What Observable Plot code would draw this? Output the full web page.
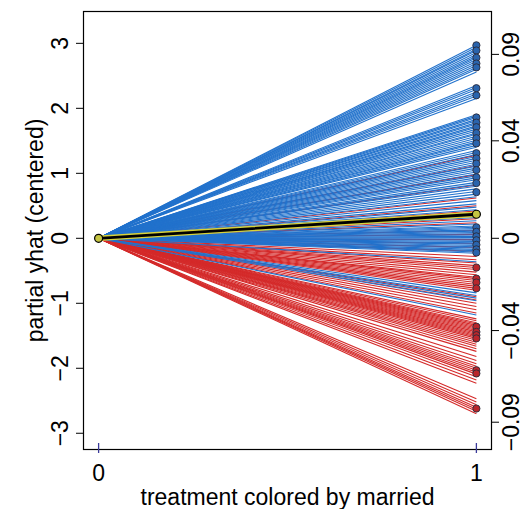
<!DOCTYPE html>
<html><head><meta charset="utf-8">
<script src="https://cdn.jsdelivr.net/npm/d3@7"></script>
<script src="https://cdn.jsdelivr.net/npm/@observablehq/plot@0.6"></script>
<style>body{margin:0;background:#fff;} svg{display:block}</style>
</head><body><div id="chart"></div>
<script>
// ICE curves: centered partial yhat at treatment = 1 (all start at 0 for treatment = 0)
const blueEnds = [2.97, 2.94, 2.91, 2.89, 2.86, 2.83, 2.8, 2.78, 2.75, 2.72, 2.69, 2.66, 2.63, 2.6, 2.56,
  2.35, 2.32, 2.29, 2.25, 2.22, 2.19, 2.15,
  1.9, 1.88, 1.86, 1.83, 1.81, 1.78, 1.76, 1.73, 1.71, 1.68, 1.65, 1.62, 1.6, 1.57, 1.54, 1.51, 1.48, 1.46, 1.43, 1.4,
  1.35, 1.32, 1.29, 1.26, 1.23, 1.2, 1.17, 1.14, 1.11, 1.08, 1.05, 1.02, 0.99, 0.96, 0.93, 0.9, 0.86, 0.83, 0.8, 0.76, 0.72, 0.68, 0.64,
  0.58, 0.53, 0.48, 0.44, 0.32, 0.27, 0.22,
  0.19, 0.17, 0.15, 0.13, 0.11, 0.09, 0.07, 0.05, 0.03, 0.01, -0.01, -0.03, -0.05, -0.07, -0.09, -0.11, -0.13, -0.15, -0.17, -0.19, -0.21, -0.23,
  -0.36, -0.84, -0.88, -0.92, -0.96, -1.18];
const redEnds = [1.28, 1.12, 0.98, 0.82, 0.62, 0.5, 0.42, 0.3, 0.24,
  0.12, 0.06, -0.02, -0.08, -0.14, -0.2,
  -0.28, -0.33, -0.38, -0.42, -0.45, -0.48, -0.52, -0.56, -0.6, -0.62, -0.65, -0.68, -0.71, -0.74, -0.77, -0.8,
  -0.9, -0.95, -1.0, -1.05, -1.1, -1.15,
  -1.24, -1.27, -1.3, -1.32, -1.34, -1.36, -1.38, -1.4, -1.42, -1.44, -1.46, -1.48, -1.5, -1.52, -1.54, -1.57, -1.6, -1.63, -1.66, -1.7, -1.74,
  -1.82, -1.88, -1.93, -1.97, -2.0, -2.03, -2.06, -2.09, -2.13, -2.18, -2.23,
  -2.47, -2.52, -2.56, -2.6, -2.63, -2.66, -2.7];
// observed points at treatment = 1
const bluePts = [2.97, 2.89, 2.78, 2.69, 2.63, 2.31, 2.2, 1.86, 1.78, 1.71, 1.62, 1.54, 1.46, 1.31, 1.23, 1.15, 1.05, 0.94, 0.85, 0.71,
  0.17, 0.1, 0.03, -0.03, -0.1, -0.17, -0.22];
const redPts = [-0.45, -0.62, -0.68, -0.77, -1.36, -1.44, -1.49, -1.54, -2.03, -2.08, -2.62];
const pdpX = [0, 1];
const pdpY = [0, 0.37];
const xTicks = [0, 1];
const rugX = [0, 1];
const leftTicks = [-3, -2, -1, 0, 1, 2, 3];
const rightTickPos = [2.83, 1.5, 0, -1.42, -2.83];
const rightTickLabels = ["0.09", "0.04", "0", "\u22120.04", "\u22120.09"];

const BLUE = "#2272cc", RED = "#d42a2a";
const curves = [];
const n = Math.max(blueEnds.length, redEnds.length);
for (let i = 0; i < n; i++) {
  if (i < blueEnds.length) curves.push({x0: xTicks[0], y0: 0, x1: xTicks[1], y1: blueEnds[i], c: BLUE});
  if (i < redEnds.length) curves.push({x0: xTicks[0], y0: 0, x1: xTicks[1], y1: redEnds[i], c: RED});
}
const pts = [...bluePts.map(v => ({x: xTicks[1], y: v, c: "#2a64ad"})), ...redPts.map(v => ({x: xTicks[1], y: v, c: "#b8262b"}))];
const pdp = pdpX.map((x, i) => ({x, y: pdpY[i]}));
const rightLabel = new Map(rightTickPos.map((p, i) => [p, rightTickLabels[i]]));
const intFmt = d => (d < 0 ? "\u2212" : "") + Math.abs(d);

const FONT = "Liberation Sans, Arial, Helvetica, sans-serif";
const FS = 23;
const chart = Plot.plot({
  width: 523, height: 509,
  marginLeft: 83, marginRight: 32, marginTop: 11, marginBottom: 60,
  style: {fontFamily: FONT, background: "#fff", color: "#000"},
  x: {domain: [-0.04, 1.04], axis: null},
  y: {domain: [-3.25, 3.49], axis: null},
  color: {type: "identity"},
  marks: [
    Plot.link(curves, {x1: "x0", y1: "y0", x2: "x1", y2: "y1", stroke: "c", strokeWidth: 1.1}),
    Plot.dot(pts, {x: "x", y: "y", fill: "c", stroke: "#2a2a3a", strokeWidth: 0.9, r: 3.6}),
    Plot.line(pdp, {x: "x", y: "y", stroke: "#d8d23a", strokeWidth: 5.5}),
    Plot.line(pdp, {x: "x", y: "y", stroke: "#000", strokeWidth: 2.8}),
    Plot.dot(pdp, {x: "x", y: "y", fill: "#c5c542", stroke: "#000", strokeWidth: 1.2, r: 4}),
    Plot.frame({stroke: "#000", strokeWidth: 1.2}),
    Plot.axisY(leftTicks, {anchor: "left", tickSize: 7, tickPadding: 9, tickRotate: -90, fontSize: FS, fontFamily: FONT, tickFormat: intFmt}),
    Plot.axisY(rightTickPos, {anchor: "right", tickSize: 7, tickPadding: 4, tickRotate: -90, lineAnchor: "top", fontSize: FS, fontFamily: FONT, tickFormat: d => rightLabel.get(d)}),
    Plot.axisX(xTicks, {anchor: "bottom", tickSize: 0, tickPadding: 15, fontSize: FS, fontFamily: FONT, tickFormat: intFmt}),
    Plot.tickX(rugX, {x: d => d, stroke: "#3a3a9a", strokeWidth: 1.3, insetTop: 432, insetBottom: -4}),
    Plot.text(["partial yhat (centered)"], {text: d => d, frameAnchor: "left", dx: -41, rotate: -90, textAnchor: "middle", lineAnchor: "bottom", fontSize: FS, fontFamily: FONT}),
    Plot.text(["treatment colored by married"], {text: d => d, frameAnchor: "bottom", dy: 55, textAnchor: "middle", lineAnchor: "bottom", fontSize: FS, fontFamily: FONT})
  ]
});
document.getElementById("chart").appendChild(chart);
</script>
</body></html>
